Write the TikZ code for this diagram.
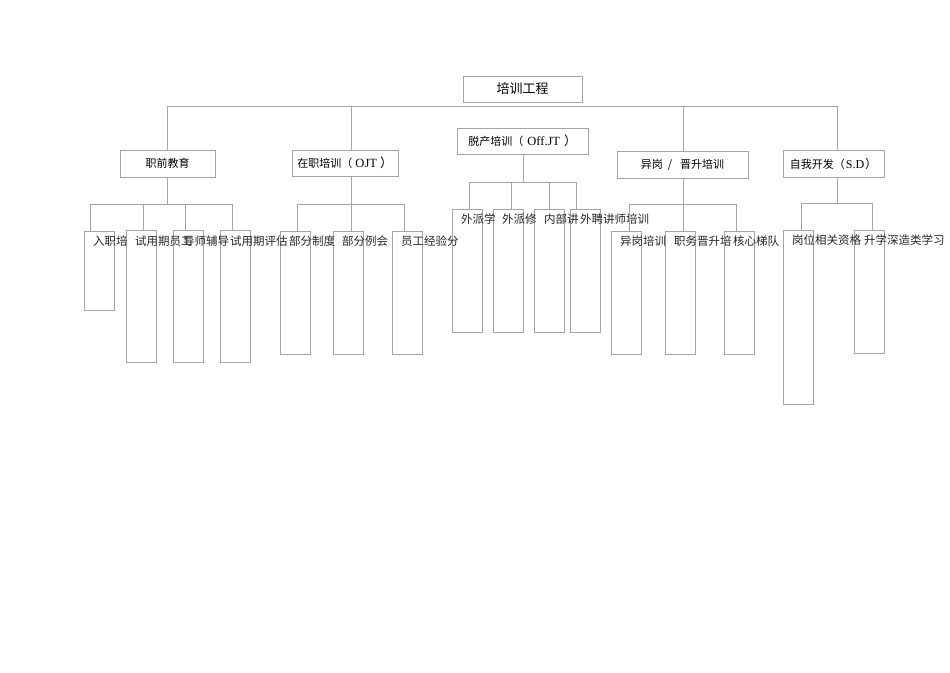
\documentclass[tikz,border=0pt]{standalone}
\usepackage{fontspec}
\setmainfont{Liberation Serif}
\newfontfamily\cjk{Noto Sans CJK SC}
\usetikzlibrary{positioning}
\definecolor{linegray}{RGB}{165,165,165}
\begin{document}
\begin{tikzpicture}[x=1pt,y=-1pt]
        % Setup the styles for the boxes
        \tikzset{top box/.style={draw=linegray, line width=0.6pt, fill=white,
                                 inner sep=0pt, font=\fontsize{13}{14}\selectfont\cjk}}
        \tikzset{group box/.style={draw=linegray, line width=0.6pt, fill=white,
                                   inner sep=0pt, font=\fontsize{11}{12}\selectfont}}
        \tikzset{leaf box/.style={draw=linegray, line width=0.6pt, fill=white,
                                  minimum width=30pt, inner sep=0pt}}
        \tikzset{leaf text/.style={anchor=west, inner sep=0pt, text=black!85,
                                   font=\fontsize{11.5}{12}\selectfont\cjk}}
        \tikzset{link/.style={draw=linegray, line width=0.6pt}}
        \useasboundingbox (0,0) rectangle (950,672);

        % Draw the top and the groups
        \node[top box, minimum width=119pt, minimum height=26pt] at (522.5, 89) (train) {培训工程};
        \node[group box, minimum width=95pt, minimum height=27pt] at (167.5, 163.5) (prejob) {\cjk 职前教育};
        \node[group box, minimum width=106pt, minimum height=26pt] at (345, 163) (ojt) {{\cjk 在职培训（}\hspace{3pt}\fontsize{12.5}{13}\selectfont OJT\hspace{3pt}{\cjk ）}};
        \node[group box, minimum width=131pt, minimum height=26pt] at (522.5, 141) (offjt) {{\cjk 脱产培训（}\hspace{4pt}\fontsize{12.5}{13}\selectfont Off.JT\hspace{4pt}{\cjk ）}};
        \node[group box, minimum width=131pt, minimum height=27pt] at (682.5, 164.5) (promo) {\cjk 异岗\hspace{5pt}/\hspace{8pt}晋升培训};
        \node[group box, minimum width=101pt, minimum height=27pt] at (833.5, 163.5) (selfdev) {{\cjk 自我开发（}\hspace{1pt}\fontsize{12}{13}\selectfont S.D\hspace{1pt}{\cjk ）}};

        % Draw the leaf boxes
        \node[leaf box, minimum height=79pt] at (99, 270.5) (pre1) {};
        \node[leaf box, minimum height=132pt] at (141, 296) (pre2) {};
        \node[leaf box, minimum height=132pt] at (188, 296) (pre3) {};
        \node[leaf box, minimum height=132pt] at (235, 296) (pre4) {};
        \node[leaf box, minimum height=123pt] at (295, 292.5) (ojt1) {};
        \node[leaf box, minimum height=123pt] at (348, 292.5) (ojt2) {};
        \node[leaf box, minimum height=123pt] at (407, 292.5) (ojt3) {};
        \node[leaf box, minimum height=123pt] at (467, 270.5) (off1) {};
        \node[leaf box, minimum height=123pt] at (508, 270.5) (off2) {};
        \node[leaf box, minimum height=123pt] at (549, 270.5) (off3) {};
        \node[leaf box, minimum height=123pt] at (585, 270.5) (off4) {};
        \node[leaf box, minimum height=123pt] at (626, 292.5) (pro1) {};
        \node[leaf box, minimum height=123pt] at (680, 292.5) (pro2) {};
        \node[leaf box, minimum height=123pt] at (739, 292.5) (pro3) {};
        \node[leaf box, minimum height=174pt] at (798, 317) (sd1) {};
        \node[leaf box, minimum height=123pt] at (869, 291.5) (sd2) {};

        % Write the leaf texts
        \node[leaf text] at (93, 241) (pre1t) {入职培};
        \node[leaf text] at (135, 241) (pre2t) {试用期员工};
        \node[leaf text] at (183, 241) (pre3t) {导师辅导};
        \node[leaf text] at (230, 241) (pre4t) {试用期评估};
        \node[leaf text] at (289, 241) (ojt1t) {部分制度};
        \node[leaf text] at (342, 241) (ojt2t) {部分例会};
        \node[leaf text] at (401, 241) (ojt3t) {员工经验分};
        \node[leaf text] at (461, 219) (off1t) {外派学};
        \node[leaf text] at (502, 219) (off2t) {外派修};
        \node[leaf text] at (544, 219) (off3t) {内部讲};
        \node[leaf text] at (580, 219) (off4t) {外聘讲师培训};
        \node[leaf text] at (620, 241) (pro1t) {异岗培训};
        \node[leaf text] at (674, 241) (pro2t) {职务晋升培};
        \node[leaf text] at (733, 241) (pro3t) {核心梯队};
        \node[leaf text] at (792, 240) (sd1t) {岗位相关资格};
        \node[leaf text] at (864, 240) (sd2t) {升学深造类学习};

        % Connect the groups to the main bar
        \coordinate (bar1) at (167, 106);
        \coordinate (bar2) at (351, 106);
        \coordinate (bar4) at (683, 106);
        \coordinate (bar5) at (837, 106);
        \draw[link] (bar1) -- (bar5);
        \draw[link] (bar1) -- (bar1 |- prejob.north);
        \draw[link] (bar2) -- (bar2 |- ojt.north);
        \draw[link] (bar4) -- (bar4 |- promo.north);
        \draw[link] (bar5) -- (bar5 |- selfdev.north);

        % Connect the leaves to their groups
        \coordinate (pa) at (90, 204);   \coordinate (pb) at (143, 204);
        \coordinate (pc) at (185, 204);  \coordinate (pd) at (232, 204);
        \draw[link] (prejob.south) -- (prejob.south |- pa) (pa) -- (pd);
        \draw[link] (pa) -- (pa |- pre1.north) (pb) -- (pb |- pre2.north)
                    (pc) -- (pc |- pre3.north) (pd) -- (pd |- pre4.north);
        \coordinate (oa) at (297, 204);  \coordinate (ob) at (351, 204);
        \coordinate (oc) at (404, 204);
        \draw[link] (ojt.south -| ob) -- (ob) (oa) -- (oc);
        \draw[link] (oa) -- (oa |- ojt1.north) (ob) -- (ob |- ojt2.north)
                    (oc) -- (oc |- ojt3.north);
        \coordinate (fa) at (469, 182);  \coordinate (fb) at (511, 182);
        \coordinate (fc) at (549, 182);  \coordinate (fd) at (576, 182);
        \draw[link] (offjt.south -| 523,0) -- (523, 182) (fa) -- (fd);
        \draw[link] (fa) -- (fa |- off1.north) (fb) -- (fb |- off2.north)
                    (fc) -- (fc |- off3.north) (fd) -- (fd |- off4.north);
        \coordinate (ra) at (629, 204);  \coordinate (rb) at (683, 204);
        \coordinate (rc) at (736, 204);
        \draw[link] (promo.south -| rb) -- (rb) (ra) -- (rc);
        \draw[link] (ra) -- (ra |- pro1.north) (rb) -- (rb |- pro2.north)
                    (rc) -- (rc |- pro3.north);
        \coordinate (sa) at (801, 203);  \coordinate (sb) at (872, 203);
        \draw[link] (selfdev.south -| bar5) -- (837, 203) (sa) -- (sb);
        \draw[link] (sa) -- (sa |- sd1.north) (sb) -- (sb |- sd2.north);
\end{tikzpicture}
\end{document}
